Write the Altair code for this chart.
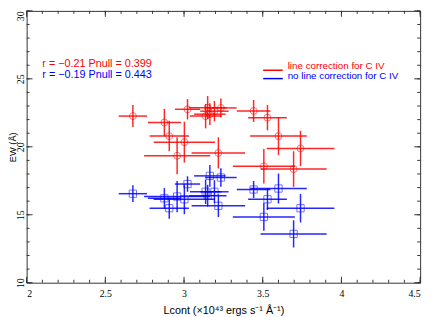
import altair as alt
import pandas as pd

# ---- data ----
lcont = [2.675, 2.875, 2.906, 2.956, 3.002, 3.022, 3.137, 3.150, 3.164, 3.193,
         3.218, 3.234, 3.442, 3.507, 3.530, 3.600, 3.696, 3.740]
lcont_err = [0.09, 0.105, 0.125, 0.21, 0.195, 0.08, 0.10, 0.12, 0.10, 0.09,
             0.17, 0.10, 0.107, 0.197, 0.123, 0.18, 0.21, 0.215]
ew_red = [22.26, 21.79, 20.79, 19.34, 20.34, 22.76, 22.26, 22.88, 22.40, 22.62,
          19.55, 22.86, 22.64, 18.57, 22.14, 20.79, 18.36, 19.88]
ew_red_err = [0.81, 1.0, 1.12, 1.36, 1.5, 0.75, 0.9, 0.85, 0.8, 0.75,
              1.15, 0.7, 0.81, 1.27, 0.93, 1.39, 1.31, 1.3]
ew_blue = [16.55, 16.21, 15.48, 16.34, 16.14, 17.26, 16.69, 16.40, 17.86, 16.69,
           15.66, 17.74, 16.86, 14.84, 16.14, 16.93, 13.59, 15.48]
ew_blue_err = [0.62, 0.75, 0.77, 1.15, 1.1, 0.57, 0.9, 0.8, 0.8, 0.85,
               0.83, 0.68, 0.63, 1.02, 0.8, 1.1, 1.0, 1.05]

series_names = ["line correction for C IV", "no line correction for C IV"]
stats_text = ["r = \u22120.21 Pnull = 0.399", "r = \u22120.19 Pnull = 0.443"]
colors = ["#ff0000", "#0000ff"]

x_major = [2.0, 2.5, 3.0, 3.5, 4.0, 4.5]
x_minor = [round(2.0 + 0.1 * i, 1) for i in range(26)]
y_major = [10, 15, 20, 25, 30]
y_minor = list(range(10, 31))

W, H = 401, 277
FONT = "Liberation Sans"
TICKFONT = "Liberation Sans Narrow"

red = pd.DataFrame({"x": lcont, "xe": lcont_err, "y": ew_red, "ye": ew_red_err})
blue = pd.DataFrame({"x": lcont, "xe": lcont_err, "y": ew_blue, "ye": ew_blue_err})

xs = alt.Scale(domain=[2, 4.5], nice=False, zero=False)
ys = alt.Scale(domain=[10, 30], nice=False, zero=False)


def series(df, color, shape, size):
    base = alt.Chart(df).transform_calculate(
        x0="datum.x - datum.xe", x1="datum.x + datum.xe",
        y0="datum.y - datum.ye", y1="datum.y + datum.ye")
    hbar = base.mark_rule(color=color, strokeWidth=1.5, opacity=0.85).encode(
        x=alt.X("x0:Q", scale=xs), x2="x1:Q", y=alt.Y("y:Q", scale=ys))
    vbar = base.mark_rule(color=color, strokeWidth=1.5, opacity=0.85).encode(
        x=alt.X("x:Q", scale=xs), y=alt.Y("y0:Q", scale=ys), y2="y1:Q")
    pts = base.mark_point(shape=shape, size=size, color=color, filled=False,
                          strokeWidth=1, opacity=0.55).encode(
        x=alt.X("x:Q", scale=xs), y=alt.Y("y:Q", scale=ys))
    return [hbar, vbar, pts]


axes = alt.Chart(pd.DataFrame({"x": [2.0], "y": [10]})).mark_point(opacity=0).encode(
    x=alt.X("x:Q", scale=xs, axis=alt.Axis(
        values=x_major, format="~g", grid=False, ticks=False, domain=False,
        labelFont=TICKFONT, labelFontSize=10, labelColor="#000", labelPadding=6,
        title="Lcont (\u00d710\u2074\u00b3 ergs s\u207b\u00b9 \u00c5\u207b\u00b9)",
        titleFont=FONT, titleFontSize=11, titleFontWeight="normal", titleColor="#000",
        titlePadding=6)),
    y=alt.Y("y:Q", scale=ys, axis=alt.Axis(
        values=y_major, grid=False, ticks=False, domain=False,
        labelFont=TICKFONT, labelFontSize=10, labelColor="#000", labelAngle=270,
        labelAlign="center", labelBaseline="alphabetic", labelPadding=3,
        labelOffset=alt.expr("datum.value == 30 ? 5 : 0"),
        title="EW (\u00c5)", titleFont=FONT, titleFontSize=9.5, titleFontWeight="normal",
        titleColor="#000", titleX=-14, titleY=H / 2, titleAlign="center",
        titleBaseline="middle", titleAngle=270)),
)

tick_col = "#333333"
xmin_df = pd.DataFrame({"v": x_minor})
xmaj_df = pd.DataFrame({"v": x_major})
ymin_df = pd.DataFrame({"v": y_minor})
ymaj_df = pd.DataFrame({"v": y_major})


def xticks(df, L):
    b = alt.Chart(df).mark_rule(color=tick_col, strokeWidth=1)
    return [b.encode(x=alt.X("v:Q", scale=xs), y=alt.value(H), y2=alt.value(H - L)),
            b.encode(x=alt.X("v:Q", scale=xs), y=alt.value(0), y2=alt.value(L))]


def yticks(df, L):
    b = alt.Chart(df).mark_rule(color=tick_col, strokeWidth=1)
    return [b.encode(y=alt.Y("v:Q", scale=ys), x=alt.value(0), x2=alt.value(L)),
            b.encode(y=alt.Y("v:Q", scale=ys), x=alt.value(W), x2=alt.value(W - L))]


one = pd.DataFrame({"k": [0]})
texts = []
stat_y = [54, 65]
leg_text_y = [56.5, 66.5]
leg_line_y = [60.5, 69]
for i in range(2):
    texts.append(alt.Chart(one).mark_text(
        align="left", baseline="middle", font=FONT, fontSize=11, color=colors[i],
        text=stats_text[i]).encode(x=alt.value(16), y=alt.value(stat_y[i])))
    texts.append(alt.Chart(one).mark_text(
        align="left", baseline="middle", font=FONT, fontSize=10, color=colors[i],
        text=series_names[i]).encode(x=alt.value(266), y=alt.value(leg_text_y[i])))
    texts.append(alt.Chart(one).mark_rule(strokeWidth=1.5, color=colors[i]).encode(
        x=alt.value(241), x2=alt.value(261), y=alt.value(leg_line_y[i])))

layers = [axes] + xticks(xmin_df, 3) + xticks(xmaj_df, 6) + yticks(ymin_df, 3) + \
    yticks(ymaj_df, 6) + series(red, "#ff0000", "circle", 50) + \
    series(blue, "#0000ff", "square", 55) + texts

chart = alt.layer(*layers).properties(
    width=W, height=H,
    autosize=alt.AutoSizeParams(type="none"),
    padding={"left": 19, "top": 0, "right": 8, "bottom": 32},
).configure_view(stroke="#333333", strokeWidth=1)

chart.save("out.html", embed_options={"renderer": "svg", "actions": False})
